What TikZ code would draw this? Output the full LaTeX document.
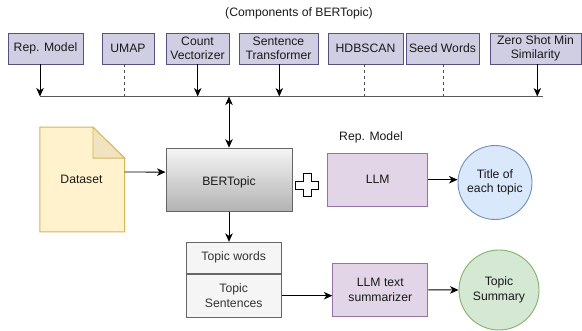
\documentclass[tikz,border=0pt]{standalone}
\usepackage{fontspec}
\setmainfont{Liberation Sans}
\usetikzlibrary{arrows.meta,shapes.geometric}
\definecolor{compfill}{HTML}{D0CEE2}
\definecolor{compdraw}{HTML}{56517E}
\definecolor{llmfill}{HTML}{E1D5E7}
\definecolor{llmdraw}{HTML}{9673A6}
\definecolor{bluefill}{HTML}{DAE8FC}
\definecolor{bluedraw}{HTML}{6C8EBF}
\definecolor{greenfill}{HTML}{D5E8D4}
\definecolor{greendraw}{HTML}{82B366}
\definecolor{docfill}{HTML}{FFF2CC}
\definecolor{docdraw}{HTML}{D6B656}
\definecolor{docfold}{HTML}{F0E3C0}
\definecolor{greyfill}{HTML}{F5F5F5}
\definecolor{greydraw}{HTML}{666666}
\definecolor{txt}{HTML}{1A1A1A}
\definecolor{txtgrey}{HTML}{333333}
\tikzset{
  every node/.style={font=\fontsize{12.2}{14.6}\selectfont, text=txt, inner sep=0pt, align=center},
  comp/.style={draw=compdraw, fill=compfill, line width=0.9pt, minimum height=31pt},
  llmbox/.style={draw=llmdraw, fill=llmfill, line width=0.9pt},
  greybox/.style={draw=greydraw, fill=greyfill, line width=0.9pt, minimum width=95pt, text=txtgrey},
  circ/.style={circle, line width=0.9pt},
  tip/.tip={Stealth[length=8.5pt,width=7.5pt,inset=2.5pt]},
  arr/.style={-tip, line width=0.9pt, black},
  dsh/.style={line width=0.8pt, draw=black!70, dash pattern=on 3pt off 3pt},
}
\begin{document}
\begin{tikzpicture}[x=1pt,y=-1pt]
\useasboundingbox (0,0) rectangle (582,331);
\node (title) at (299,13) {(Components of BERTopic)};
% component boxes
\node[comp, minimum width=75pt] (rep) at (45.5,48.5) {Rep. Model};
\node[comp, minimum width=52pt] (umap) at (128,48.5) {UMAP};
\node[comp, minimum width=63pt] (count) at (197.5,48.5) {Count\\Vectorizer};
\node[comp, minimum width=79pt] (sent) at (278.5,48.5) {Sentence\\Transformer};
\node[comp, minimum width=75pt] (hdb) at (365.5,48.5) {HDBSCAN};
\node[comp, minimum width=73pt] (seed) at (442.5,48.5) {Seed Words};
\node[comp, minimum width=91pt] (zero) at (535.5,48.5) {Zero Shot Min\\Similarity};
% bus
\coordinate (busL) at (40,96.5);
\coordinate (busR) at (542.5,96.5);
\coordinate (b1) at (40,96.5);
\coordinate (b2) at (124,96.5);
\coordinate (b3) at (197.7,96.5);
\coordinate (b4) at (279.3,96.5);
\coordinate (b5) at (364.7,96.5);
\coordinate (b6) at (443.3,96.5);
\coordinate (b7) at (537.3,96.5);
\coordinate (b8) at (229,96.5);
\draw[line width=1.4pt, draw=black!65] (busL) -- (busR);
\draw[arr] (rep.south -| b1) -- (b1);
\draw[dsh] (umap.south -| b2) -- (b2);
\draw[arr] (count.south -| b3) -- (b3);
\draw[arr] (sent.south -| b4) -- (b4);
\draw[dsh] (hdb.south -| b5) -- (b5);
\draw[dsh] (seed.south -| b6) -- (b6);
\draw[arr] (zero.south -| b7) -- (b7);
% BERTopic
\node[draw=greydraw, line width=0.9pt, top color=greyfill, bottom color=black!30, minimum width=126pt, minimum height=63pt] (bert) at (229,179.6) {};
\node (berttext) at ([yshift=-3pt]bert.center) {BERTopic};
\draw[tip-tip, line width=0.9pt] (b8) -- (bert.north);
% Dataset document
\node[minimum width=84.3pt, minimum height=104.4pt] (ds) at (82.2,179.5) {};
\draw[draw=docdraw, fill=docfill, line width=0.9pt] (ds.north west) -- ([xshift=-31.6pt]ds.north east) -- ([yshift=-31pt]ds.north east) -- (ds.south east) -- (ds.south west) -- cycle;
\draw[draw=docdraw, fill=docfold, line width=0.9pt] ([xshift=-31.6pt]ds.north east) -- ([xshift=-31.6pt,yshift=-31pt]ds.north east) -- ([yshift=-31pt]ds.north east) -- cycle;
\node (dstext) at (81.5,179) {Dataset};
\draw[arr] ([yshift=7.5pt]ds.east) -- ([yshift=7.5pt]bert.west);
% plus
\draw[line width=0.9pt, fill=white] (303,173.5) -- (311,173.5) -- (311,181) -- (318.3,181) -- (318.3,189) -- (311,189) -- (311,196.5) -- (303,196.5) -- (303,189) -- (295.7,189) -- (295.7,181) -- (303,181) -- cycle;
% LLM
\node (replabel) at (371,137) {Rep. Model};
\node[llmbox, minimum width=100pt, minimum height=53pt] (llm) at (377.7,179.7) {LLM};
\node[circ, draw=bluedraw, fill=bluefill, minimum size=74pt] (titlec) at (495,182.5) {Title of\\each topic};
\draw[arr] (llm.east) -- (llm.east -| titlec.west);
% bottom
\node[greybox, minimum height=31pt] (tw) at (233.7,257.8) {Topic words};
\node[greybox, minimum height=43pt, anchor=north] (ts) at (tw.south) {Topic\\Sentences};
\draw[arr] (bert.south) -- (bert.south |- tw.north);
\node[llmbox, minimum width=95pt, minimum height=53pt] (summ) at (380.3,289.8) {LLM text\\summarizer};
\draw[arr] (ts.east) -- (ts.east -| summ.west);
\node[circ, draw=greendraw, fill=greenfill, minimum size=80pt] (sumc) at (499,290) {Topic\\Summary};
\draw[arr] (summ.east) -- (sumc.west);
\end{tikzpicture}
\end{document}
